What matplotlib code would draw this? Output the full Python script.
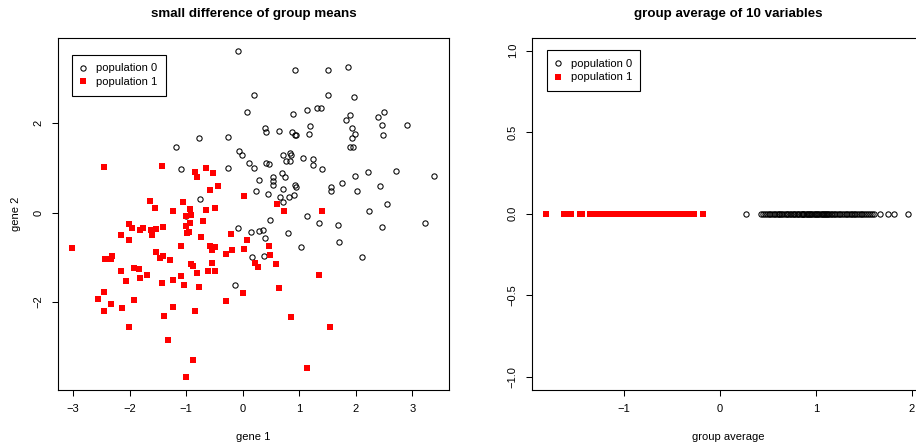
import matplotlib.pyplot as plt

plt.rcParams['font.family'] = ['Liberation Sans', 'DejaVu Sans']

# --- left panel: gene 1 vs gene 2, two populations ---
pop0_gene1 = [-0.08, 0.19, 0.08, -0.77, -0.26, -1.18, -0.07, -0.01, 0.11, 0.19,
              -1.10, -0.27, -0.75, 0.23,
              0.92, 1.50, 1.86, 1.50, 1.97, 0.89, 1.14, 1.31, 1.38, 1.90,
              1.82, 2.39, 2.50, 2.90, 2.47, 2.48, 0.39, 0.41, 0.65, 0.87,
              0.92, 0.94, 1.19, 1.18, 1.94, 1.98, 1.93, 1.90, 1.95, 0.71,
              0.84, 0.85, 0.77, 0.84, 0.42, 0.46, 1.07, 1.24, 1.24, 1.41,
              0.70, 0.74, 0.53, 0.54, 0.53, 0.29, 0.44, 0.72, 0.93, 0.94,
              0.66, 0.82, 0.90, 1.56, 1.56, 1.75, 2.02, 1.99, 2.21, 2.71,
              3.39, 2.42,
              0.71, 2.55, 2.23, 1.13, 0.48, 1.35, 1.68, 3.22, 2.47, 0.15,
              0.28, 0.35, 0.40, 0.80, 1.71, 1.03, 0.16, 0.37, 2.11,
              -1.00, -0.08, -0.14]
pop0_gene2 = [3.62, 2.63, 2.25, 1.66, 1.69, 1.47, 1.39, 1.29, 1.11, 0.99,
              0.97, 0.99, 0.31, 0.49,
              3.19, 3.19, 3.27, 2.64, 2.58, 2.20, 2.29, 2.35, 2.34, 2.18,
              2.07, 2.14, 2.25, 1.96, 1.96, 1.74, 1.90, 1.81, 1.83, 1.80,
              1.74, 1.73, 1.93, 1.76, 1.89, 1.75, 1.67, 1.46, 1.46, 1.29,
              1.33, 1.30, 1.15, 1.15, 1.10, 1.09, 1.22, 1.20, 1.06, 0.97,
              0.89, 0.79, 0.79, 0.70, 0.62, 0.73, 0.41, 0.52, 0.62, 0.57,
              0.34, 0.35, 0.39, 0.58, 0.48, 0.66, 0.48, 0.82, 0.90, 0.94,
              0.82, 0.60,
              0.24, 0.20, 0.04, -0.07, -0.17, -0.24, -0.27, -0.24, -0.32, -0.44,
              -0.42, -0.38, -0.56, -0.45, -0.65, -0.76, -1.00, -0.97, -0.99,
              -0.07, -0.35, -1.63]

pop1_gene1 = [-2.45, -1.43, -0.84, -0.65, -0.81, -0.52, -0.44, -0.58, 0.02, -1.64,
              -1.05, -1.55,
              -1.24, -0.93, -0.65, -0.49, -1.00, -0.91, -0.70, -2.01, -1.96, -1.81,
              -1.76, -1.62, -1.53, -1.60, -1.41, -1.00, -0.93, -0.98, -0.96, -2.15,
              -2.01, -0.74, -0.21, 0.08, -3.02, -1.09, -0.58, -0.49, -0.54, -0.19,
              0.02, -0.30, -1.53, -2.31, -2.43, -2.34, -1.46, -1.41, -1.28, -0.91,
              -0.88, -0.54, 0.22, -2.15, -1.92, -1.83, -0.81, -0.61, -0.49, -1.69,
              -1.81, -2.06, -1.09, -1.23, -1.43, -1.04, -0.77, -2.45, -2.57, -1.92,
              0.01, -0.30, -2.33, -2.45, -2.13, -1.23, -0.84, -1.39, -2.01, -1.32,
              -0.88, -1.00,
              0.61, 0.73, 1.40, 0.46, 0.48, 0.27, 0.59, 1.35, 0.64, 0.85,
              1.54, 1.14]
pop1_gene2 = [1.03, 1.05, 0.91, 1.00, 0.80, 0.89, 0.60, 0.51, 0.37, 0.26,
              0.24, 0.11,
              0.04, 0.08, 0.06, 0.11, -0.07, -0.05, -0.19, -0.25, -0.34, -0.39,
              -0.34, -0.39, -0.37, -0.50, -0.32, -0.30, -0.23, -0.46, -0.43, -0.50,
              -0.61, -0.55, -0.48, -0.61, -0.79, -0.75, -0.75, -0.77, -0.84, -0.84,
              -0.82, -0.93, -0.88, -0.97, -1.04, -1.04, -1.02, -0.97, -1.06, -1.15,
              -1.20, -1.13, -1.13, -1.31, -1.24, -1.27, -1.36, -1.31, -1.31, -1.40,
              -1.47, -1.53, -1.42, -1.51, -1.58, -1.62, -1.67, -1.78, -1.94, -1.96,
              -1.80, -1.98, -2.05, -2.21, -2.14, -2.12, -2.21, -2.32, -2.55, -2.86,
              -3.29, -3.69,
              0.20, 0.04, 0.04, -0.75, -0.95, -1.22, -1.15, -1.40, -1.69, -2.34,
              -2.55, -3.47]

# --- right panel: group average of 10 variables ---
avg_pop0 = [0.27, 0.43, 0.45, 0.47, 0.49, 0.51, 0.52, 0.54, 0.56, 0.57,
            0.59, 0.61, 0.62, 0.64, 0.65, 0.67, 0.69, 0.70, 0.71, 0.73,
            0.74, 0.76, 0.77, 0.78, 0.80, 0.81, 0.82, 0.84, 0.85, 0.86,
            0.87, 0.88, 0.90, 0.91, 0.92, 0.93, 0.94, 0.95, 0.96, 0.98,
            0.99, 1.00, 1.01, 1.02, 1.03, 1.05, 1.06, 1.07, 1.08, 1.09,
            1.10, 1.12, 1.13, 1.14, 1.16, 1.17, 1.19, 1.20, 1.22, 1.24,
            1.25, 1.27, 1.29, 1.31, 1.32, 1.34, 1.36, 1.38, 1.40, 1.41,
            1.43, 1.45, 1.47, 1.48, 1.50, 1.52, 1.54, 1.56, 1.58, 1.60,
            1.67, 1.75, 1.81, 1.955]
avg_pop1 = [-1.81, -1.62, -1.59, -1.555, -1.455, -1.435,
            -1.35, -1.33, -1.31, -1.30, -1.28, -1.26, -1.25, -1.23, -1.21, -1.20,
            -1.18, -1.16, -1.15, -1.13, -1.11, -1.10, -1.08, -1.07, -1.05, -1.04,
            -1.02, -1.01, -0.99, -0.98, -0.97, -0.95, -0.94, -0.93, -0.91, -0.90,
            -0.89, -0.88, -0.86, -0.85, -0.84, -0.83, -0.82, -0.81, -0.80, -0.79,
            -0.78, -0.77, -0.76, -0.75, -0.74, -0.72, -0.71, -0.70, -0.69, -0.68,
            -0.66, -0.65, -0.64, -0.62, -0.61, -0.60, -0.58, -0.57, -0.55, -0.54,
            -0.52, -0.51, -0.49, -0.47, -0.46, -0.44, -0.42, -0.41, -0.39, -0.37,
            -0.35, -0.33, -0.31, -0.29, -0.275, -0.18]

W, H = 916, 448
fig = plt.figure(figsize=(W / 100, H / 100), dpi=100)
ax1 = fig.add_axes([58 / W, 58 / H, 391 / W, 352.5 / H])
ax2 = fig.add_axes([532 / W, 58 / H, 391.5 / W, 352.5 / H])

circ = dict(linestyle='none', marker='o', mfc='none', mec='black', ms=3.8, mew=0.75)
sq = dict(linestyle='none', marker='s', color='red', ms=3.8, mew=0)

ax1.plot(pop0_gene1, pop0_gene2, label='population 0', **circ)
ax1.plot(pop1_gene1, pop1_gene2, label='population 1', **sq)
ax1.set_xlim(-3.27, 3.65)
ax1.set_ylim(-3.97, 3.92)
ax1.set_xticks([-3, -2, -1, 0, 1, 2, 3])
ax1.set_yticks([-2, 0, 2])
ax1.set_xlabel('gene 1', fontsize=8, labelpad=12.5)
ax1.set_ylabel('gene 2', fontsize=8, labelpad=9)
ax1.set_title('small difference of group means', fontsize=9.6, fontweight='bold', pad=15)

ax2.plot(avg_pop0, [0] * len(avg_pop0), label='population 0', **circ)
ax2.plot(avg_pop1, [0] * len(avg_pop1), label='population 1', **sq)
ax2.set_xlim(-1.958, 2.12)
ax2.set_ylim(-1.08, 1.08)
ax2.set_xticks([-1, 0, 1, 2])
ax2.set_yticks([-1.0, -0.5, 0.0, 0.5, 1.0])
ax2.set_xlabel('group average', fontsize=8, labelpad=12.5)
ax2.set_title('group average of 10 variables', fontsize=9.6, fontweight='bold', pad=15)

for ax, anchor in [(ax1, (0.0366, 0.950)), (ax2, (0.0375, 0.964))]:
    for s in ax.spines.values():
        s.set_linewidth(0.8)
    ax.tick_params(length=4.3, width=0.75, labelsize=8, pad=6)
    ax.tick_params(axis='y', labelrotation=90)
    for lab in ax.get_yticklabels():
        lab.set_verticalalignment('center')
    leg = ax.legend(loc='upper left', bbox_to_anchor=anchor, borderaxespad=0,
                    fontsize=8, fancybox=False, framealpha=1, edgecolor='black',
                    borderpad=0.75, labelspacing=0.35, handlelength=0.45,
                    handletextpad=0.95)
    leg.get_frame().set_linewidth(0.8)

fig.savefig('out.png', dpi=100)
